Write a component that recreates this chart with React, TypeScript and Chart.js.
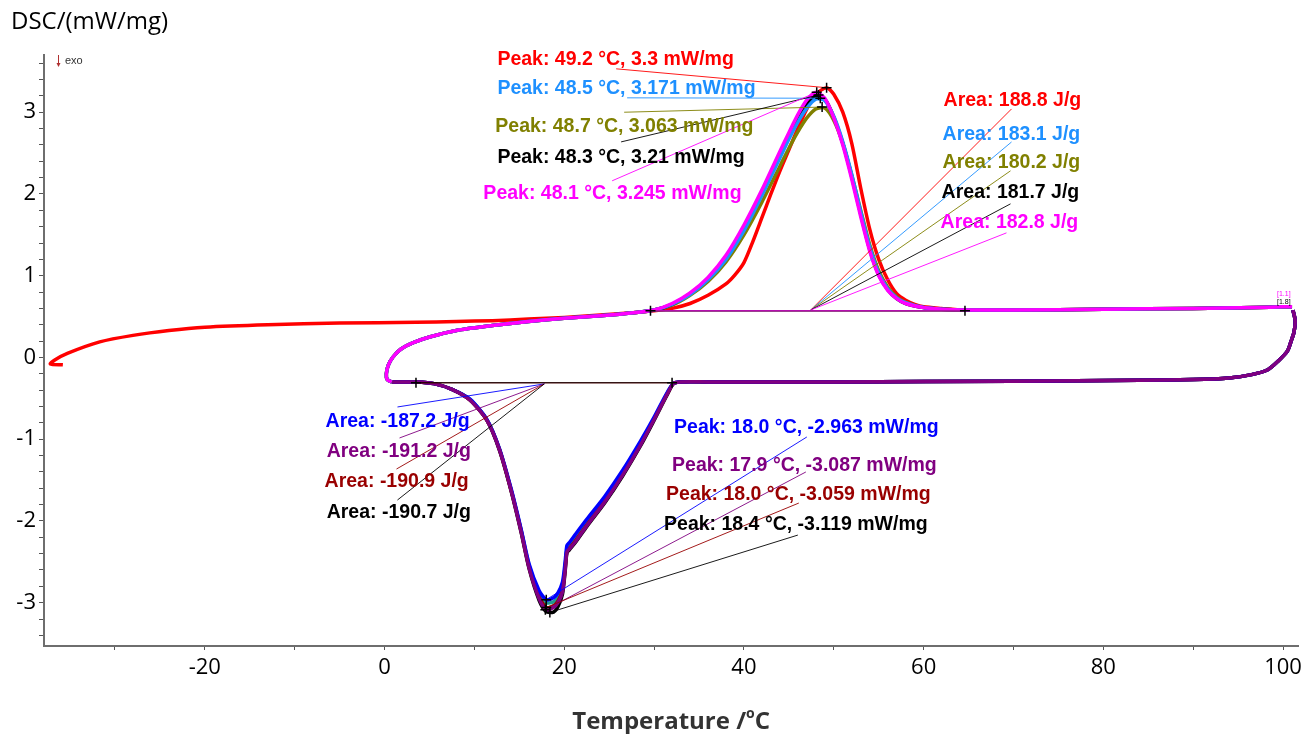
import React, { useEffect, useRef } from 'react';
import { Chart, registerables } from 'chart.js';
Chart.register(...registerables);

// ---------- Heating curves (shared temperature grid, °C) ----------
const HEAT_T = [0.8, 0.3, 0.2, 0.4, 0.9, 1.8, 3.2, 5, 8, 12, 16, 20, 24, 28, 30,
  32, 34, 36, 38, 40, 42, 44, 45, 46, 47, 48, 49, 50, 51, 52, 53, 54, 55, 56, 57, 58, 60, 62, 64.5, 70, 80, 90, 97, 100, 101];
const HEAT_START = [-0.3, -0.27, -0.2, -0.1, 0.0, 0.1, 0.18, 0.25, 0.33, 0.39, 0.44, 0.48, 0.51, 0.55, 0.58];
const MAGENTA_V = [...HEAT_START, 0.66, 0.79, 0.98, 1.25, 1.62, 2.05, 2.52, 2.75, 2.97, 3.15, 3.245, 3.17, 2.93, 2.6, 2.18, 1.72, 1.3, 1.0, 0.82, 0.72, 0.66, 0.61, 0.59, 0.58, 0.58, 0.59, 0.6, 0.61, 0.62, 0.62];
const LBLUE_V = [...HEAT_START, 0.65, 0.77, 0.95, 1.2, 1.55, 1.98, 2.44, 2.67, 2.88, 3.05, 3.16, 3.14, 2.95, 2.64, 2.24, 1.78, 1.35, 1.03, 0.84, 0.73, 0.67, 0.61, 0.59, 0.58, 0.58, 0.59, 0.6, 0.61, 0.62, 0.62];
const OLIVE_V = [...HEAT_START, 0.64, 0.76, 0.93, 1.17, 1.5, 1.9, 2.34, 2.56, 2.76, 2.93, 3.04, 3.05, 2.9, 2.62, 2.23, 1.8, 1.38, 1.06, 0.86, 0.74, 0.67, 0.61, 0.59, 0.58, 0.58, 0.59, 0.6, 0.61, 0.62, 0.62];
const BLACKH_V = [...HEAT_START, 0.65, 0.78, 0.96, 1.22, 1.58, 2.01, 2.48, 2.71, 2.93, 3.1, 3.2, 3.16, 2.94, 2.62, 2.21, 1.75, 1.32, 1.01, 0.83, 0.72, 0.66, 0.61, 0.59, 0.58, 0.58, 0.59, 0.6, 0.61, 0.62, 0.62];

// red heating run starts at -37 °C
const RED_T = [-35.8, -37.2, -36.7, -35.3, -31.7, -28, -24, -20, -13, -5, 3.5, 8, 12, 16, 20, 24, 28, 30, 32, 34, 36, 38, 39, 40, 41, 42, 43, 44, 45, 46, 47, 48, 49.2, 50, 51, 52, 53, 54, 55, 56, 57, 58, 59, 60, 62, 64.5, 70, 80, 90, 97, 100, 101];
const RED_V = [-0.09, -0.08, -0.03, 0.05, 0.19, 0.27, 0.33, 0.37, 0.4, 0.42, 0.43, 0.44, 0.45, 0.47, 0.49, 0.52, 0.55, 0.57, 0.6, 0.66, 0.76, 0.9, 1.01, 1.16, 1.42, 1.71, 2.0, 2.28, 2.54, 2.8, 3.04, 3.22, 3.3, 3.22, 3.0, 2.62, 2.07, 1.57, 1.2, 0.95, 0.78, 0.7, 0.65, 0.62, 0.6, 0.58, 0.58, 0.59, 0.6, 0.61, 0.62, 0.62];

// ---------- Cooling curves (shared temperature grid, °C) ----------
const COOL_T = [101.1, 101.35, 101.2, 100.9, 100.5, 99.5, 98.3, 96.5, 94, 90, 84, 70, 50, 36, 32.3, 31.5, 30, 28.5, 26.5, 24.5,
  22.5, 21.2, 20.6, 20.3, 20.1, 19.8, 19.3, 18.8, 18.0, 17.2, 16.1, 15.2, 14.1, 12.8, 11.4, 9.5, 7.5, 5.5, 3.5, 2, 0.8];
const COOL_START = [0.58, 0.45, 0.3, 0.2, 0.08, -0.04, -0.15, -0.21, -0.25, -0.27, -0.28, -0.29, -0.3, -0.3, -0.31];
const COOL_END = [-0.39, -0.32, -0.3, -0.3, -0.3];
const BLUE_V = [...COOL_START, -0.42, -0.73, -1.02, -1.38, -1.7, -1.98, -2.17, -2.26, -2.3, -2.5, -2.75, -2.88, -2.94, -2.963, -2.85, -2.53, -2.1, -1.61, -1.12, -0.76, -0.51, ...COOL_END];
const PURPLE_V = [...COOL_START, -0.44, -0.76, -1.07, -1.44, -1.77, -2.06, -2.26, -2.34, -2.38, -2.6, -2.87, -3.0, -3.06, -3.087, -2.95, -2.58, -2.13, -1.63, -1.13, -0.77, -0.52, ...COOL_END];
const DRED_V = [...COOL_START, -0.44, -0.75, -1.06, -1.43, -1.76, -2.05, -2.25, -2.33, -2.37, -2.58, -2.85, -2.98, -3.04, -3.059, -2.93, -2.57, -2.12, -1.63, -1.13, -0.77, -0.52, ...COOL_END];
const BLACKC_V = [...COOL_START, -0.45, -0.77, -1.08, -1.45, -1.78, -2.07, -2.27, -2.35, -2.39, -2.62, -2.9, -3.05, -3.115, -3.11, -2.97, -2.59, -2.14, -1.64, -1.14, -0.77, -0.52, ...COOL_END];
const TEAL_V = [...COOL_START, -0.43, -0.75, -1.05, -1.42, -1.74, -2.02, -2.22, -2.31, -2.35, -2.55, -2.8, -2.93, -2.99, -3.0, -2.88, -2.55, -2.11, -1.62, -1.12, -0.76, -0.51, ...COOL_END];

// ---------- Evaluation results ----------
const HEAT_PEAK_T = [49.2, 48.5, 48.7, 48.3, 48.1];
const HEAT_PEAK_V = [3.3, 3.171, 3.063, 3.21, 3.245];
const HEAT_AREA = [188.8, 183.1, 180.2, 181.7, 182.8];
const COOL_PEAK_T = [18.0, 17.9, 18.0, 18.4];
const COOL_PEAK_V = [-2.963, -3.087, -3.059, -3.119];
const COOL_AREA = [-187.2, -191.2, -190.9, -190.7];
const HEAT_LIMITS = [[29.6, 0.57], [64.6, 0.57]];
const COOL_LIMITS = [[3.5, -0.31], [32.0, -0.31]];

const HEAT_COLORS = ['#ff0000', '#1e90ff', '#808000', '#000000', '#ff00ff'];
const COOL_COLORS = ['#0000ff', '#800080', '#990000', '#000000'];

// label placement (data units): [textX, textY, leaderX, leaderY]
const HEAT_PEAK_POS = [[12.56, 3.58, 25.78, 3.531], [12.56, 3.225, 27.0, 3.176], [12.33, 2.76, 26.67, 3.0], [12.56, 2.38, 26.33, 2.637], [11.0, 1.94, 25.33, 2.161]];
const HEAT_AREA_POS = [[62.22, 3.07, 69.78, 3.04], [62.11, 2.662, 69.78, 2.636], [62.11, 2.319, 69.67, 2.283], [62.0, 1.952, 69.67, 1.879], [61.89, 1.585, 69.22, 1.524]];
const HEAT_AREA_ORIGIN = [47.44, 0.581];
const COOL_AREA_POS = [[-6.56, -0.851, 1.44, -0.606], [-6.44, -1.218, 1.67, -0.985], [-6.67, -1.585, 1.33, -1.365], [-6.44, -1.964, 1.44, -1.744]];
const COOL_AREA_ORIGIN = [17.78, -0.324];
const COOL_PEAK_POS = [[32.22, -0.924, 47.0, -0.973], [32.0, -1.389, 46.89, -1.401], [31.33, -1.744, 46.11, -1.781], [31.11, -2.111, 46.0, -2.173]];

const toPts = (t: number[], v: number[]) => t.map((x, i) => ({ x, y: v[i] }));
const fmtT = (t: number) => t.toFixed(1);

export default function App() {
  const ref = useRef<HTMLCanvasElement>(null);
  useEffect(() => {
    document.body.style.margin = '0';
    const canvas = ref.current!;
    const line = (label: string, data: any[], color: string) => ({
      label, data, borderColor: color, backgroundColor: color, borderWidth: 3.5,
      showLine: true, pointRadius: 0, tension: 0.25, fill: false,
    });
    // Chart.js paints the first dataset on top
    const datasets = [
      line('heat magenta', toPts(HEAT_T, MAGENTA_V), HEAT_COLORS[4]),
      line('heat lightblue', toPts(HEAT_T, LBLUE_V), HEAT_COLORS[1]),
      line('heat black', toPts(HEAT_T, BLACKH_V), HEAT_COLORS[3]),
      line('heat olive', toPts(HEAT_T, OLIVE_V), HEAT_COLORS[2]),
      line('heat red', toPts(RED_T, RED_V), HEAT_COLORS[0]),
      line('cool purple', toPts(COOL_T, PURPLE_V), COOL_COLORS[1]),
      line('cool blue', toPts(COOL_T, BLUE_V), COOL_COLORS[0]),
      line('cool darkred', toPts(COOL_T, DRED_V), COOL_COLORS[2]),
      line('cool black', toPts(COOL_T, BLACKC_V), COOL_COLORS[3]),
      line('cool teal', toPts(COOL_T, TEAL_V), '#1f9a8f'),
    ];

    const LABEL_FONT = 'bold 19.5px "Liberation Sans", Arial, sans-serif';
    const annot = {
      id: 'annot',
      afterDatasetsDraw(chart: any) {
        const { ctx, scales: { x, y } } = chart;
        const px = (t: number) => x.getPixelForValue(t);
        const py = (v: number) => y.getPixelForValue(v);
        ctx.save();
        // integration baselines
        ctx.lineWidth = 1;
        HEAT_COLORS.forEach((c) => {
          ctx.strokeStyle = c;
          ctx.beginPath();
          ctx.moveTo(px(HEAT_LIMITS[0][0]), py(HEAT_LIMITS[0][1]));
          ctx.lineTo(px(HEAT_LIMITS[1][0]), py(HEAT_LIMITS[1][1]));
          ctx.stroke();
        });
        ['#990000', '#000000'].forEach((c) => {
          ctx.strokeStyle = c;
          ctx.beginPath();
          ctx.moveTo(px(COOL_LIMITS[0][0]), py(COOL_LIMITS[0][1]));
          ctx.lineTo(px(COOL_LIMITS[1][0]), py(COOL_LIMITS[1][1]));
          ctx.stroke();
        });
        // leader lines
        ctx.lineWidth = 0.9;
        HEAT_PEAK_POS.forEach((p, i) => {
          ctx.strokeStyle = HEAT_COLORS[i];
          ctx.beginPath();
          ctx.moveTo(px(p[2]), py(p[3]));
          ctx.lineTo(px(HEAT_PEAK_T[i]), py(HEAT_PEAK_V[i]));
          ctx.stroke();
        });
        HEAT_AREA_POS.forEach((p, i) => {
          ctx.strokeStyle = HEAT_COLORS[i];
          ctx.beginPath();
          ctx.moveTo(px(HEAT_AREA_ORIGIN[0]), py(HEAT_AREA_ORIGIN[1]));
          ctx.lineTo(px(p[2]), py(p[3]));
          ctx.stroke();
        });
        COOL_AREA_POS.forEach((p, i) => {
          ctx.strokeStyle = COOL_COLORS[i];
          ctx.beginPath();
          ctx.moveTo(px(COOL_AREA_ORIGIN[0]), py(COOL_AREA_ORIGIN[1]));
          ctx.lineTo(px(p[2]), py(p[3]));
          ctx.stroke();
        });
        COOL_PEAK_POS.forEach((p, i) => {
          ctx.strokeStyle = COOL_COLORS[i];
          ctx.beginPath();
          ctx.moveTo(px(COOL_PEAK_T[i]), py(COOL_PEAK_V[i]));
          ctx.lineTo(px(p[2]), py(p[3]));
          ctx.stroke();
        });
        // crosses
        ctx.strokeStyle = '#000';
        ctx.lineWidth = 1.5;
        const cross = (t: number, v: number) => {
          const cx = px(t), cy = py(v);
          ctx.beginPath();
          ctx.moveTo(cx - 5, cy); ctx.lineTo(cx + 5, cy);
          ctx.moveTo(cx, cy - 5); ctx.lineTo(cx, cy + 5);
          ctx.stroke();
        };
        HEAT_PEAK_T.forEach((t, i) => cross(t, HEAT_PEAK_V[i]));
        COOL_PEAK_T.forEach((t, i) => cross(t, COOL_PEAK_V[i]));
        [...HEAT_LIMITS, ...COOL_LIMITS].forEach((p) => cross(p[0], p[1]));
        // labels
        ctx.font = LABEL_FONT;
        ctx.textAlign = 'left';
        ctx.textBaseline = 'alphabetic';
        HEAT_PEAK_POS.forEach((p, i) => {
          ctx.fillStyle = HEAT_COLORS[i];
          ctx.fillText(`Peak: ${fmtT(HEAT_PEAK_T[i])} °C, ${HEAT_PEAK_V[i]} mW/mg`, px(p[0]), py(p[1]));
        });
        HEAT_AREA_POS.forEach((p, i) => {
          ctx.fillStyle = HEAT_COLORS[i];
          ctx.fillText(`Area: ${HEAT_AREA[i].toFixed(1)} J/g`, px(p[0]), py(p[1]));
        });
        COOL_AREA_POS.forEach((p, i) => {
          ctx.fillStyle = COOL_COLORS[i];
          ctx.fillText(`Area: ${COOL_AREA[i].toFixed(1)} J/g`, px(p[0]), py(p[1]));
        });
        COOL_PEAK_POS.forEach((p, i) => {
          ctx.fillStyle = COOL_COLORS[i];
          ctx.fillText(`Peak: ${fmtT(COOL_PEAK_T[i])} °C, ${COOL_PEAK_V[i]} mW/mg`, px(p[0]), py(p[1]));
        });
        // tiny markers at right end
        ctx.font = '7px "Liberation Sans", Arial, sans-serif';
        ctx.fillStyle = '#ff00ff';
        ctx.fillText('[1.1]', 1277, 296);
        ctx.fillStyle = '#000';
        ctx.fillText('[1.8]', 1277, 304);
        ctx.restore();
      },
      afterDraw(chart: any) {
        const { ctx, chartArea } = chart;
        ctx.save();
        ctx.fillStyle = '#000';
        ctx.textBaseline = 'alphabetic';
        ctx.textAlign = 'left';
        ctx.font = '24px "Open Sans", sans-serif';
        ctx.fillText('DSC/(mW/mg)', 11, 29);
        // exo marker
        ctx.strokeStyle = '#b03030';
        ctx.fillStyle = '#b03030';
        ctx.lineWidth = 1;
        ctx.beginPath();
        ctx.moveTo(58.5, 55); ctx.lineTo(58.5, 66); ctx.stroke();
        ctx.beginPath();
        ctx.moveTo(56.5, 63); ctx.lineTo(60.5, 63); ctx.lineTo(58.5, 67); ctx.closePath(); ctx.fill();
        ctx.fillStyle = '#333';
        ctx.font = '11px "Liberation Sans", Arial, sans-serif';
        ctx.fillText('exo', 65, 64);
        // x title with superscript
        const cx = (chartArea.left + chartArea.right) / 2;
        const main = 'Temperature /';
        ctx.font = 'bold 24px "Open Sans", sans-serif';
        const w1 = ctx.measureText(main).width;
        const w3 = ctx.measureText('C').width;
        ctx.font = 'bold 14px "Open Sans", sans-serif';
        const w2 = ctx.measureText('o').width;
        let sx = cx - (w1 + w2 + w3) / 2;
        const base = 729;
        ctx.font = 'bold 24px "Open Sans", sans-serif';
        ctx.fillText(main, sx, base);
        sx += w1;
        ctx.font = 'bold 14px "Open Sans", sans-serif';
        ctx.fillText('o', sx, base - 11);
        sx += w2;
        ctx.font = 'bold 24px "Open Sans", sans-serif';
        ctx.fillText('C', sx, base);
        ctx.restore();
      },
    };

    const tickFont = { family: '"Open Sans", sans-serif', size: 22 };
    const chart = new Chart(canvas, {
      type: 'scatter',
      data: { datasets },
      plugins: [annot],
      options: {
        animation: false,
        responsive: false,
        maintainAspectRatio: false,
        layout: { padding: { top: 55, right: 7, left: 0, bottom: 0 } },
        plugins: { legend: { display: false }, tooltip: { enabled: false } },
        scales: {
          x: {
            type: 'linear',
            min: -37.9,
            max: 101.7,
            afterFit: (s: any) => { s.height = 88; },
            border: { display: true, color: '#6e6e6e', width: 2 },
            grid: { display: true, drawOnChartArea: false, drawTicks: true, tickLength: 4, color: '#555', lineWidth: 1 },
            ticks: {
              stepSize: 10,
              includeBounds: false,
              autoSkip: false,
              maxRotation: 0,
              padding: 5,
              color: '#000',
              font: tickFont,
              callback: (v: any) => (Math.abs(v % 20) < 1e-6 ? String(v) : ''),
            },
          },
          y: {
            type: 'linear',
            min: -3.53,
            max: 3.7,
            afterFit: (s: any) => { s.width = 44; },
            border: { display: true, color: '#6e6e6e', width: 2 },
            grid: { display: true, drawOnChartArea: false, drawTicks: true, tickLength: 5, color: '#555', lineWidth: 1 },
            ticks: {
              stepSize: 0.2,
              includeBounds: false,
              autoSkip: false,
              padding: 3,
              color: '#000',
              font: tickFont,
              callback: (v: any) => (Math.abs(v - Math.round(v)) < 1e-6 ? String(Math.round(v)) : ''),
            },
          },
        },
      },
    } as any);
    return () => chart.destroy();
  }, []);
  return (
    <div style={{ width: 1307, height: 734, background: '#fff' }}>
      <canvas ref={ref} width={1307} height={734} style={{ display: 'block' }} />
    </div>
  );
}
